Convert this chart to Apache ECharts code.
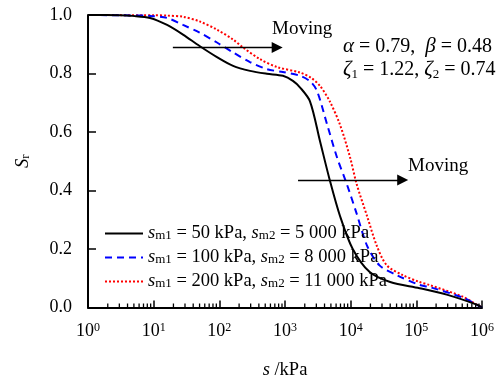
<!DOCTYPE html>
<html>
<head>
<meta charset="utf-8">
<script src="https://cdn.jsdelivr.net/npm/echarts@6.0.0/dist/echarts.min.js"></script>
<style>
  html, body { margin: 0; padding: 0; background: #fff; }
  #chart { width: 500px; height: 385px; }
</style>
</head>
<body>
<div id="chart"></div>
<script>
// suction s (kPa) and degree of saturation Sr
const sBlack  = [1, 3, 4.8, 8.8, 16, 28, 50, 92, 162, 293, 530, 930, 1320, 1700, 2400, 3400, 4800, 6900, 10700, 19500, 40000, 112000, 290000, 830000, 1000000];
const srBlack = [1.0, 0.999, 0.997, 0.99, 0.966, 0.933, 0.894, 0.856, 0.826, 0.809, 0.799, 0.792, 0.775, 0.752, 0.705, 0.57, 0.436, 0.312, 0.201, 0.121, 0.087, 0.066, 0.044, 0.01, 0.0];

const sBlue  = [1, 3.2, 8.8, 16, 28, 50, 92, 162, 293, 530, 930, 1700, 2500, 3100, 4400, 6200, 8700, 12300, 17800, 27500, 50000, 112000, 158000, 510000, 830000, 1000000];
const srBlue = [1.0, 0.999, 0.997, 0.99, 0.966, 0.94, 0.906, 0.872, 0.839, 0.815, 0.805, 0.792, 0.77, 0.738, 0.624, 0.513, 0.423, 0.322, 0.211, 0.144, 0.111, 0.077, 0.07, 0.034, 0.01, 0.0];

const sRed  = [1, 10, 16, 28, 50, 92, 162, 229, 417, 760, 1700, 2500, 3400, 4800, 6900, 9800, 12300, 17800, 25000, 35500, 62000, 112000, 158000, 510000, 830000, 1000000];
const srRed = [1.0, 0.999, 0.998, 0.994, 0.978, 0.95, 0.916, 0.889, 0.849, 0.822, 0.803, 0.785, 0.758, 0.705, 0.624, 0.513, 0.423, 0.312, 0.211, 0.144, 0.111, 0.087, 0.077, 0.037, 0.01, 0.0];

const sm1 = ['50', '100', '200'];
const sm2 = ['5 000', '8 000', '11 000'];
const seriesNames = ['c1', 'c2', 'c3'];

// minor ticks at 2..9 x 10^n
const minorTicks = [];
for (let e = 0; e < 6; e++) {
  for (let m = 2; m <= 9; m++) minorTicks.push([m * Math.pow(10, e), 0]);
}

const font = 'Liberation Serif';
const pair = (xs, ys) => xs.map((x, i) => [x, ys[i]]);

const chart = echarts.init(document.getElementById('chart'));

const rich = {
  it: { fontFamily: font, fontStyle: 'italic', fontSize: 18.5, color: '#000', lineHeight: 18 },
  t: { fontFamily: font, fontSize: 18.5, color: '#000', lineHeight: 18 },
  sub: { fontFamily: font, fontSize: 13, color: '#000', lineHeight: 13, verticalAlign: 'bottom' },
  b: { fontFamily: font, fontSize: 18, color: '#000', lineHeight: 20 },
  sup: { fontFamily: font, fontSize: 12, color: '#000', lineHeight: 10, verticalAlign: 'top' }
};

const option = {
  animation: false,
  backgroundColor: '#fff',
  grid: { left: 88, right: 18, top: 15, bottom: 72 },
  legend: {
    data: seriesNames,
    orient: 'vertical',
    left: 99,
    top: 219,
    itemWidth: 38,
    itemHeight: 14,
    itemGap: 5,
    itemStyle: { opacity: 0 },
    textStyle: { fontFamily: font, fontSize: 18.5, color: '#000', rich: rich },
    formatter: function (name) {
      const i = seriesNames.indexOf(name);
      return '{it|s}{sub|m1}{t| = ' + sm1[i] + ' kPa, }{it|s}{sub|m2}{t| = ' + sm2[i] + ' kPa}';
    }
  },
  xAxis: {
    type: 'log',
    logBase: 10,
    min: 1,
    max: 1000000,
    name: '{it|s}{t| /kPa}',
    nameLocation: 'middle',
    nameGap: 54,
    nameTextStyle: { rich: rich },
    axisLine: { lineStyle: { color: '#000', width: 2 } },
    axisTick: { inside: true, length: 7, lineStyle: { color: '#000', width: 1.5 } },
    splitLine: { show: false },
    axisLabel: {
      margin: 14,
      formatter: function (v) {
        return '{b|10}{sup|' + Math.round(Math.log10(v)) + '}';
      },
      rich: rich
    }
  },
  yAxis: {
    type: 'value',
    min: 0,
    max: 1,
    interval: 0.2,
    name: '{it|S}{sub|r}',
    nameLocation: 'middle',
    nameRotate: 90,
    nameGap: 56,
    nameTextStyle: { rich: rich },
    axisLine: { show: true, lineStyle: { color: '#000', width: 2 } },
    axisTick: { show: true, inside: true, length: 8, lineStyle: { color: '#000', width: 1.5 } },
    splitLine: { show: false },
    axisLabel: {
      margin: 16,
      fontFamily: font,
      fontSize: 18,
      color: '#000',
      formatter: function (v) { return v.toFixed(1); }
    }
  },
  series: [
    {
      name: seriesNames[0],
      type: 'line',
      data: pair(sBlack, srBlack),
      showSymbol: false,
      symbol: 'none',
      smooth: 0.3,
      lineStyle: { color: '#000', width: 2, type: 'solid' },
      itemStyle: { color: '#000' },
      z: 4,
      markLine: {
        silent: true,
        symbol: ['none', 'triangle'],
        symbolSize: 11,
        label: { show: false },
        lineStyle: { color: '#000', width: 1.3, type: 'solid' },
        data: [
          [{ coord: [19.6, 0.889] }, { coord: [760, 0.889] }],
          [{ coord: [1580, 0.436] }, { coord: [62000, 0.436] }]
        ]
      }
    },
    {
      name: seriesNames[1],
      type: 'line',
      data: pair(sBlue, srBlue),
      showSymbol: false,
      symbol: 'none',
      smooth: 0.3,
      lineStyle: { color: '#0000ff', width: 2, type: [7, 5] },
      itemStyle: { color: '#0000ff' },
      z: 3
    },
    {
      name: seriesNames[2],
      type: 'line',
      data: pair(sRed, srRed),
      showSymbol: false,
      symbol: 'none',
      smooth: 0.3,
      lineStyle: { color: '#ff0000', width: 2, type: [2, 2] },
      itemStyle: { color: '#ff0000' },
      z: 2
    },
    {
      name: 'minor',
      type: 'custom',
      silent: true,
      data: minorTicks,
      renderItem: function (params, api) {
        const p = api.coord([api.value(0), 0]);
        return {
          type: 'line',
          shape: { x1: p[0], y1: p[1], x2: p[0], y2: p[1] - 4 },
          style: { stroke: '#000', lineWidth: 1.3 }
        };
      },
      z: 5
    }
  ],
  graphic: [
    { type: 'text', left: 272, top: 20, style: { text: 'Moving', font: '19px "Liberation Serif"', fill: '#000' } },
    { type: 'text', left: 408, top: 157, style: { text: 'Moving', font: '19px "Liberation Serif"', fill: '#000' } },
    {
      type: 'text', left: 343, top: 36,
      style: {
        text: '{g|α}{t| = 0.79,  }{g|β}{t| = 0.48}\n{g|ζ}{sub|1}{t| = 1.22, }{g|ζ}{sub|2}{t| = 0.74}',
        rich: {
          g: { fontFamily: font, fontStyle: 'italic', fontSize: 21, fill: '#000', lineHeight: 23 },
          t: { fontFamily: font, fontSize: 20, fill: '#000', lineHeight: 23 },
          sub: { fontFamily: font, fontSize: 13, fill: '#000', lineHeight: 15, verticalAlign: 'bottom' }
        }
      }
    }
  ]
};

chart.setOption(option);
</script>
</body>
</html>
